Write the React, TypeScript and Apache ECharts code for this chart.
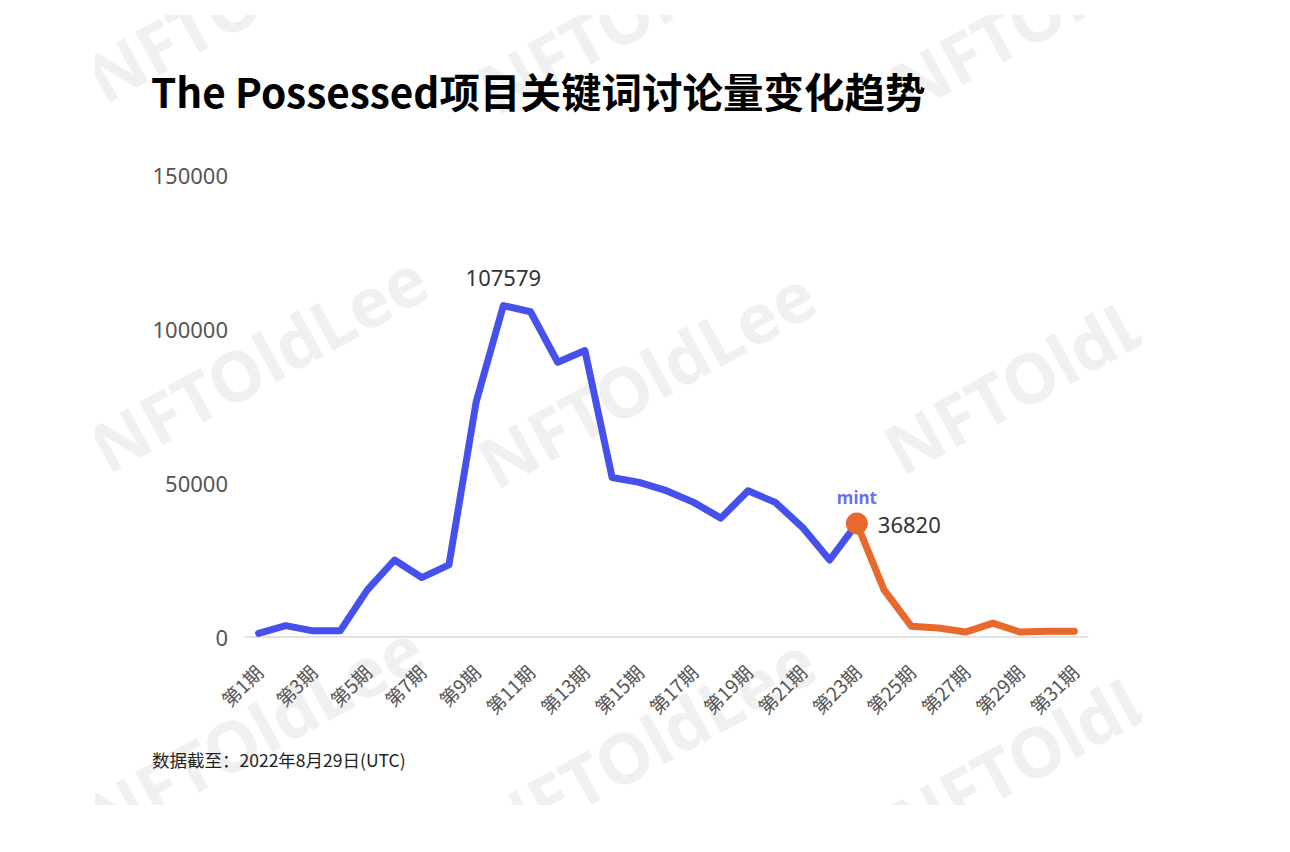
import React, { useEffect, useRef } from "react";
import * as echarts from "echarts";

const categories = Array.from({ length: 31 }, (_, i) => `第${i + 1}期`);
const blueValues: (number | string)[] = [
  1200, 3700, 2000, 2000, 15300, 25000, 19300, 23400, 76300, 107579, 105600,
  89200, 93000, 51800, 50200, 47500, 43700, 38600, 47500, 43700, 35600, 25000,
  36820, "-", "-", "-", "-", "-", "-", "-", "-",
];
const orangeValues: (number | string)[] = [
  "-", "-", "-", "-", "-", "-", "-", "-", "-", "-", "-", "-", "-", "-", "-",
  "-", "-", "-", "-", "-", "-", "-",
  36820, 15300, 3500, 2900, 1600, 4500, 1600, 1900, 1900,
];
const peakIndex = 9;
const mintIndex = 22;
const yTicks = { min: 0, max: 150000, interval: 50000 };
const titleText = "The Possessed项目关键词讨论量变化趋势";
const footerText = "数据截至：2022年8月29日(UTC)";
const watermarkText = "NFTOldLee";

const BLUE = "#4651ED";
const ORANGE = "#E8692D";

export default function App() {
  const ref = useRef<HTMLDivElement>(null);
  useEffect(() => {
    document.body.style.margin = "0";
    const chart = echarts.init(ref.current!, null, { renderer: "svg" });
    const rot = (29 * Math.PI) / 180;
    const wmStarts = [
      [108, 112], [500, 124], [912, 122],
      [112, 482], [500, 498], [906, 484],
      [108, 852], [500, 864], [912, 858],
    ];
    const wm = wmStarts.map(([x, y]) => ({
      type: "text",
      x,
      y,
      rotation: rot,
      z: -10,
      silent: true,
      style: {
        text: watermarkText,
        x: 0,
        y: 0,
        fill: "#f0f0f0",
        font: 'bold 69px "Noto Sans", sans-serif',
        align: "left",
        verticalAlign: "bottom",
      },
    }));
    const masks = [
      { x: 0, y: 0, width: 1290, height: 15 },
      { x: 0, y: 805, width: 1290, height: 60 },
      { x: 0, y: 0, width: 95, height: 852 },
      { x: 1142, y: 0, width: 160, height: 852 },
    ].map((s) => ({
      type: "rect",
      z: -5,
      silent: true,
      shape: s,
      style: { fill: "#ffffff" },
    }));

    const blueData = blueValues.map((v, i) =>
      i === peakIndex
        ? {
            value: v,
            label: {
              show: true,
              position: "top",
              distance: 18,
              formatter: "{c}",
              color: "#333",
              fontSize: 22,
              fontFamily: '"Noto Sans", sans-serif',
            },
          }
        : v
    );
    const orangeData = orangeValues.map((v, i) =>
      i === mintIndex
        ? {
            value: v,
            symbolSize: 22,
            label: {
              show: true,
              position: "right",
              distance: 10,
              formatter: "{c}",
              color: "#333",
              fontSize: 22,
              fontFamily: '"Noto Sans", sans-serif',
            },
          }
        : v
    );

    chart.setOption({
      animation: false,
      backgroundColor: "#ffffff",
      title: {
        text: titleText,
        left: 146,
        top: 65,
        textStyle: {
          fontSize: 40.5,
          fontWeight: "bold",
          color: "#000",
          fontFamily: '"Noto Sans CJK SC", "Noto Sans", sans-serif',
        },
      },
      graphic: [
        ...wm,
        ...masks,
        {
          type: "text",
          left: 152,
          top: 751,
          z: 10,
          style: {
            text: footerText,
            fill: "#222",
            font: '17.5px "Noto Sans CJK SC", sans-serif',
          },
        },
      ],
      grid: { left: 245, right: 202, top: 175, bottom: 215, outerBoundsMode: "none" },
      xAxis: {
        type: "category",
        data: categories,
        boundaryGap: true,
        axisLine: { show: true, lineStyle: { color: "#d9d9d9", width: 1.5 } },
        axisTick: { show: false },
        axisLabel: {
          show: true,
          interval: 1,
          rotate: 45,
          margin: 31,
          color: "#555555",
          fontSize: 19,
          fontFamily: '"Noto Sans CJK SC", sans-serif',
        },
      },
      yAxis: {
        type: "value",
        min: yTicks.min,
        max: yTicks.max,
        interval: yTicks.interval,
        axisLine: { show: false },
        axisTick: { show: false },
        splitLine: { show: false },
        axisLabel: {
          margin: 17,
          color: "#555",
          fontSize: 22,
          fontFamily: '"Noto Sans", sans-serif',
          formatter: (v: number) => String(v),
        },
      },
      series: [
        {
          type: "line",
          data: blueData,
          symbol: "circle",
          symbolSize: 0,
          showSymbol: true,
          z: 3,
          lineStyle: { color: BLUE, width: 7, cap: "round", join: "round" },
          itemStyle: { color: BLUE },
        },
        {
          type: "line",
          data: orangeData,
          symbol: "circle",
          symbolSize: 0,
          showSymbol: true,
          z: 4,
          lineStyle: { color: ORANGE, width: 7, cap: "round", join: "round" },
          itemStyle: { color: ORANGE },
        },
        {
          type: "scatter",
          data: [[mintIndex, 36820]],
          symbolSize: 1,
          itemStyle: { color: "rgba(0,0,0,0)" },
          z: 5,
          label: {
            show: true,
            position: "top",
            distance: 17,
            formatter: "mint",
            color: "#3f4ae8",
            fontSize: 17,
            fontWeight: "bold",
            fontFamily: '"Noto Sans", sans-serif',
          },
        },
      ],
    });
    return () => chart.dispose();
  }, []);
  return <div ref={ref} style={{ width: 1290, height: 852 }} />;
}
